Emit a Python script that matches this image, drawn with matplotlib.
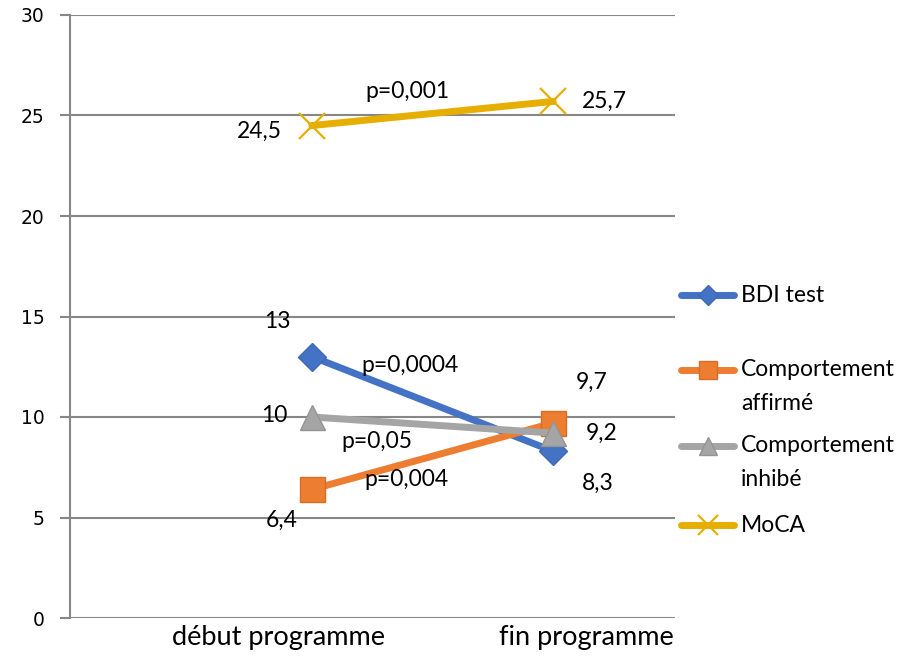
import matplotlib.pyplot as plt
from matplotlib.lines import Line2D

plt.rcParams["font.family"] = ["Lato", "DejaVu Sans"]

# data
categories = ["début programme", "fin programme"]
bdi = [13, 8.3]
affirme = [6.4, 9.7]
inhibe = [10, 9.2]
moca = [24.5, 25.7]
series_names = ["BDI test", "Comportement\naffirmé", "Comportement\ninhibé", "MoCA"]
p_values = ["p=0,0004", "p=0,004", "p=0,05", "p=0,001"]

colors = ["#4472C4", "#ED7D31", "#A5A5A5", "#E6AF00"]
edge_colors = ["#4068B5", "#D86E25", "#949494", "#E6AF00"]
markers = ["D", "s", "^", "x"]
msizes = [14, 18, 18, 19]

W, H = 916, 660
fig = plt.figure(figsize=(W / 100, H / 100), dpi=100)
ax = fig.add_axes([70 / W, 1 - 618 / H, 605 / W, 603 / H])

x = list(range(len(categories)))
all_series = [bdi, affirme, inhibe, moca]
for vals, col, ec, mk, ms in zip(all_series, colors, edge_colors, markers, msizes):
    if mk == "x":
        ax.plot(x, vals, color=col, lw=5, marker=mk, ms=ms, mew=1.6, zorder=3)
    else:
        ax.plot(x, vals, color=col, lw=5, marker=mk, ms=ms,
                mfc=col, mec=ec, mew=1, zorder=3)

# value labels (offsets in points)
fs = 16.5
label_offsets = [
    [(-25, 25), (32, -23)],   # BDI
    [(-22, -22), (28, 29)],   # affirmé
    [(-27, 1), (35, 0)],      # inhibé
    [(-38, -4), (37, 0)],     # MoCA
]
for vals, offs in zip(all_series, label_offsets):
    for xi, v, (dx, dy) in zip(x, vals, offs):
        txt = str(v).replace(".", ",")
        ax.annotate(txt, (xi, v), xytext=(dx, dy), textcoords="offset points",
                    ha="center", va="center", fontsize=fs, color="black")

# p-value labels placed along the lines
p_pos = [(0.407, 12.57), (0.39, 6.87), (0.27, 8.78), (0.398, 26.17)]
for txt, (px, py) in zip(p_values, p_pos):
    ax.text(px, py, txt, ha="center", va="center", fontsize=fs)

ax.set_xlim(-1.004, 1.506)
ax.set_ylim(0, 30)
ax.set_yticks(range(0, 31, 5))
ax.set_yticklabels([str(v) for v in range(0, 31, 5)], family="DejaVu Sans", fontsize=13.5)
# category labels sit a little off the points, as in the original
ax.set_xticks([-0.141, 1.137])
ax.set_xticklabels(categories, fontsize=19.5)
ax.tick_params(axis="x", length=0, pad=5)
ax.tick_params(axis="y", length=7, width=1.5, color="#878787", pad=11.5)
ax.grid(axis="y", color="#878787", lw=1.5)
ax.set_axisbelow(True)
for side in ["top", "right", "bottom"]:
    ax.spines[side].set_visible(False)
ax.spines["left"].set_color("#878787")
ax.spines["left"].set_linewidth(1.5)

# legend drawn by hand so the handle lines up with the first text line
legend_y = [295, 370, 446, 525]
for name, col, ec, mk, ms, ly in zip(series_names, colors, edge_colors, markers, msizes, legend_y):
    yf = 1 - ly / H
    kw = dict(mew=1.6) if mk == "x" else dict(mfc=col, mec=ec, mew=1)
    fig.add_artist(Line2D([681 / W, 707.5 / W, 734 / W], [yf, yf, yf], transform=fig.transFigure,
                          color=col, lw=5, solid_capstyle="round", marker=mk,
                          ms=ms * 0.75, markevery=[1], **kw))
    for i, line in enumerate(name.split("\n")):
        fig.text(741 / W, 1 - (ly + i * 34) / H, line, ha="left", va="center", fontsize=fs)

fig.savefig("out.png", dpi=100)
